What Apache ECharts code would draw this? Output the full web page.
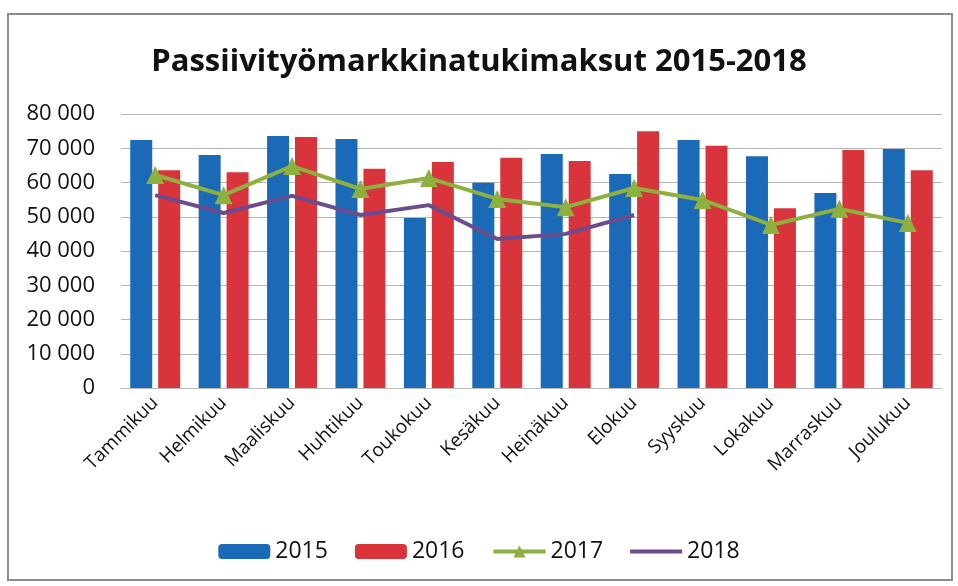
<!DOCTYPE html>
<html>
<head>
<meta charset="utf-8">
<script src="https://cdn.jsdelivr.net/npm/echarts@6/dist/echarts.min.js"></script>
<style>
  html, body { margin: 0; padding: 0; background: #fff; }
  #frame {
    position: absolute; left: 7px; top: 13px; width: 946px; height: 568px;
    border: 2px solid #8c8c8c; box-sizing: border-box;
  }
  #chart { position: absolute; left: 0; top: 0; width: 958px; height: 586px; }
</style>
</head>
<body>
<div id="frame"></div>
<div id="chart"></div>
<script>
// kuukaudet
var months = ['Tammikuu', 'Helmikuu', 'Maaliskuu', 'Huhtikuu', 'Toukokuu', 'Kesäkuu',
  'Heinäkuu', 'Elokuu', 'Syyskuu', 'Lokakuu', 'Marraskuu', 'Joulukuu'];

// arvot luettu kuvasta
var v2015 = [72400, 68000, 73600, 72700, 49600, 59900, 68300, 62500, 72400, 67700, 56900, 69800];
var v2016 = [63600, 63000, 73300, 64000, 66000, 67200, 66300, 75000, 70700, 52500, 69500, 63600];
var v2017 = [62200, 56300, 64800, 58100, 61300, 55200, 52800, 58400, 54900, 47600, 52300, 48200];
var v2018 = [56300, 51100, 56100, 50500, 53400, 43500, 45000, 50500];

var yTicks = [0, 10000, 20000, 30000, 40000, 50000, 60000, 70000, 80000];

var font = '"Open Sans", "Liberation Sans", sans-serif';

var chart = echarts.init(document.getElementById('chart'));

// pelkkä viiva legendaan (2018), 52x15 laatikko
var lineIcon = 'path://M0,0 L0.1,0 L0.1,0.1 Z M0,5.5 L52,5.5 L52,9.5 L0,9.5 Z M51.9,14.9 L52,14.9 L52,15 Z';

var option = {
  animation: false,
  title: {
    text: 'Passiivityömarkkinatukimaksut 2015-2018',
    left: 'center',
    top: 42,
    textStyle: { fontFamily: font, fontSize: 31, fontWeight: 'bold', color: '#111' }
  },
  legend: {
    bottom: 18,
    left: 'center',
    itemGap: 27,
    itemWidth: 52,
    itemHeight: 15,
    textStyle: { fontFamily: font, fontSize: 23, color: '#111' },
    data: ['2015', '2016', { name: '2017', lineStyle: { width: 4 } }, { name: '2018', icon: lineIcon }]
  },
  grid: { left: 121, right: 16, top: 114, bottom: 198, containLabel: false },
  xAxis: {
    type: 'category',
    data: months,
    axisLine: { lineStyle: { color: '#bbb' } },
    axisTick: { show: false },
    axisLabel: {
      rotate: 45, interval: 0, fontFamily: font, fontSize: 19, color: '#111', margin: 12
    }
  },
  yAxis: {
    type: 'value',
    min: yTicks[0],
    max: yTicks[yTicks.length - 1],
    interval: 10000,
    axisLine: { show: false },
    axisTick: { show: false },
    splitLine: { lineStyle: { color: '#b5b5b5', width: 1 } },
    axisLabel: {
      fontFamily: font, fontSize: 22, color: '#111', margin: 26,
      formatter: function (v) { return String(v).replace(/\B(?=(\d{3})+(?!\d))/g, ' '); }
    }
  },
  series: [
    {
      name: '2015', type: 'bar', data: v2015,
      barGap: '27%', barCategoryGap: '27%',
      itemStyle: { color: '#1b6ab8' }
    },
    {
      name: '2016', type: 'bar', data: v2016,
      itemStyle: { color: '#d9343c' }
    },
    {
      name: '2017', type: 'line', data: v2017,
      symbol: 'triangle', symbolSize: 18,
      lineStyle: { color: '#8db03e', width: 4 },
      itemStyle: { color: '#8db03e' }
    },
    {
      name: '2018', type: 'line', data: v2018,
      symbol: 'none',
      lineStyle: { color: '#6b4c8c', width: 4 },
      itemStyle: { color: '#6b4c8c' }
    }
  ]
};

chart.setOption(option);
</script>
</body>
</html>
